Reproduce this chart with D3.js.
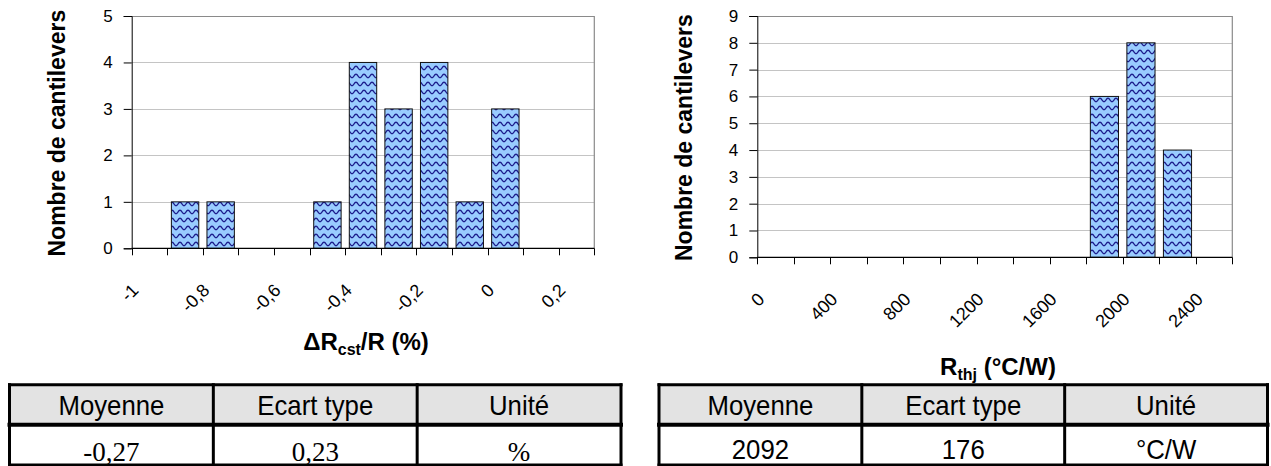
<!DOCTYPE html>
<html><head><meta charset="utf-8">
<script src="https://cdn.jsdelivr.net/npm/d3@7"></script>
<style>
body{margin:0;background:#fff}
svg{display:block}
text{font-family:"Liberation Sans",Arial,sans-serif;fill:#000}
</style>
</head><body>
<svg id="c" width="1271" height="466"></svg>
<script>
// ---- data ----
const leftCategories = ["-1","-0,9","-0,8","-0,7","-0,6","-0,5","-0,4","-0,3","-0,2","-0,1","0","0,1","0,2"];
const leftCounts = [0,1,1,0,0,1,4,3,4,1,3,0,0];
const leftYTicks = [0,1,2,3,4,5];
const rightCategories = ["0","200","400","600","800","1000","1200","1400","1600","1800","2000","2200","2400"];
const rightCounts = [0,0,0,0,0,0,0,0,0,6,8,4,0];
const rightYTicks = [0,1,2,3,4,5,6,7,8,9];
const yTitleText = "Nombre de cantilevers";
const tableHeaders = ["Moyenne","Ecart type","Unité"];
const leftStats = ["-0,27","0,23","%"];
const rightStats = ["2092","176","°C/W"];

const svg = d3.select("#c");
svg.append("rect").attr("width",1271).attr("height",466).attr("fill","#fff");

const defs = svg.append("defs");
const pat = defs.append("pattern").attr("id","wave").attr("width",8).attr("height",8)
  .attr("patternUnits","userSpaceOnUse");
pat.append("rect").attr("width",8).attr("height",8).attr("fill","#99ccff");
pat.append("path").attr("d","M0,5.8 C2,5.8 2,2.2 4,2.2 C6,2.2 6,5.8 8,5.8")
  .attr("fill","none").attr("stroke","#1c1c8c").attr("stroke-width",1.4);

function drawHist(cfg){
  const g = svg.append("g");
  const x = d3.scaleBand().domain(cfg.categories).range([cfg.x0,cfg.x1])
    .paddingInner(0.23).paddingOuter(0.115);
  const y = d3.scaleLinear().domain([0,cfg.yMax]).range([cfg.y1,cfg.y0]);
  const step = x.step();
  // gridlines
  g.selectAll("line.grid").data(cfg.yTicks.filter(v=>v>0 && v<cfg.yMax)).join("line")
    .attr("x1",cfg.x0).attr("x2",cfg.x1)
    .attr("y1",d=>Math.round(y(d))+0.5).attr("y2",d=>Math.round(y(d))+0.5)
    .attr("stroke","#c4c4c4").attr("stroke-width",1);
  // plot border top/right
  g.append("path")
    .attr("d",`M${cfg.x0},${Math.round(y(cfg.yMax))+0.5} H${cfg.x1} V${cfg.y1}`)
    .attr("fill","none").attr("stroke","#8a8a8a").attr("stroke-width",1.2);
  // bars
  const data = cfg.categories.map((c,i)=>({c, v:cfg.counts[i]})).filter(d=>d.v>0);
  g.selectAll("rect.bar").data(data).join("rect")
    .attr("x",d=>x(d.c)).attr("width",x.bandwidth())
    .attr("y",d=>y(d.v)).attr("height",d=>y(0)-y(d.v))
    .attr("fill","url(#wave)").attr("stroke","#111").attr("stroke-width",1);
  // y axis
  const ya = d3.axisLeft(y).tickValues(cfg.yTicks).tickSize(8).tickPadding(11).tickFormat(d3.format("d"));
  const yg = g.append("g").attr("transform",`translate(${cfg.x0},0)`).call(ya);
  yg.attr("font-size",null).attr("font-family",null);
  yg.select(".domain").attr("stroke","#000");
  yg.selectAll(".tick line").attr("stroke","#000");
  yg.selectAll(".tick text").style("font-size","17px");
  // x axis line
  g.append("line").attr("x1",cfg.x0).attr("x2",cfg.x1).attr("y1",cfg.y1).attr("y2",cfg.y1)
    .attr("stroke","#000").attr("stroke-width",1.2);
  // x ticks at category boundaries
  const bounds = cfg.categories.map(c=>x(c)-step*x.paddingInner()/2).concat([cfg.x1]);
  g.selectAll("line.xt").data(bounds).join("line")
    .attr("x1",d=>Math.round(d)+0.5).attr("x2",d=>Math.round(d)+0.5)
    .attr("y1",cfg.y1).attr("y2",cfg.y1+7).attr("stroke","#000");
  // x tick labels (every other category), rotated
  g.selectAll("text.xl").data(cfg.categories.filter((c,i)=>i%2===0)).join("text")
    .style("font-size","18px").attr("text-anchor","end")
    .attr("transform",d=>`translate(${x(d)+x.bandwidth()/2-10},${cfg.y1+43}) rotate(-45)`)
    .text(d=>d);
  // y title
  g.append("text").style("font-size","23px").attr("font-weight","bold").attr("text-anchor","middle")
    .attr("transform",`translate(${cfg.yTitleX},${(cfg.y0+cfg.y1)/2+1}) rotate(-90)`)
    .text(yTitleText);
  // x title
  const xt = g.append("text").style("font-size","24px").attr("font-weight","bold").attr("text-anchor","middle")
    .attr("x",cfg.xTitleX).attr("y",cfg.xTitleY);
  cfg.xTitle.forEach(p=>{
    const t = xt.append("tspan").text(p.t);
    if(p.sub){ t.style("font-size","16px").attr("dy",5); }
    else if(p.after){ t.attr("dy",-5); }
  });
}

drawHist({x0:131.7,x1:594.3,y0:16,y1:248.3,categories:leftCategories,counts:leftCounts,
  yMax:5,yTicks:leftYTicks,yTitleX:65,xTitleX:366,xTitleY:350,
  xTitle:[{t:"\u0394R"},{t:"cst",sub:true},{t:"/R (%)",after:true}]});
drawHist({x0:757.3,x1:1232.3,y0:16,y1:257.3,categories:rightCategories,counts:rightCounts,
  yMax:9,yTicks:rightYTicks,yTitleX:691.5,xTitleX:998,xTitleY:374.5,
  xTitle:[{t:"R"},{t:"thj",sub:true},{t:" (\u00B0C/W)",after:true}]});

// ---- tables ----
function drawTable(x0,x1,body,serif){
  const g = svg.append("g");
  const top=384.7, mid=424.7, bot=465;
  const w=(x1-x0)/3;
  g.append("rect").attr("x",x0).attr("y",top).attr("width",x1-x0).attr("height",mid-top).attr("fill","#e3e3e3");
  const lines=[[x0,top,x1,top],[x0,mid,x1,mid],[x0,bot,x1,bot],[x0,top,x0,bot],[x1,top,x1,bot],
    [x0+w,top,x0+w,bot],[x0+2*w,top,x0+2*w,bot]];
  g.selectAll("line").data(lines).join("line")
    .attr("x1",d=>d[0]).attr("y1",d=>d[1]).attr("x2",d=>d[2]).attr("y2",d=>d[3])
    .attr("stroke","#000").attr("stroke-width",(d,i)=>i===1?4:3).attr("stroke-linecap","square");
  g.selectAll("text.h").data(tableHeaders).join("text")
    .style("font-size","28px").attr("text-anchor","middle")
    .attr("transform",(d,i)=>`translate(${x0+w*(i+0.5)},415) scale(0.92,1)`).text(d=>d);
  g.selectAll("text.b").data(body).join("text")
    .style("font-size",serif?"27px":"28px").attr("text-anchor","middle")
    .style("font-family",serif?"'Liberation Serif','Times New Roman',serif":null)
    .attr("transform",(d,i)=>`translate(${x0+w*(i+0.5)},${serif?461:459}) scale(${serif?1:0.92},1)`).text(d=>d);
}
drawTable(9.5,621,leftStats,true);
drawTable(659,1267.5,rightStats,false);
</script>
</body></html>
